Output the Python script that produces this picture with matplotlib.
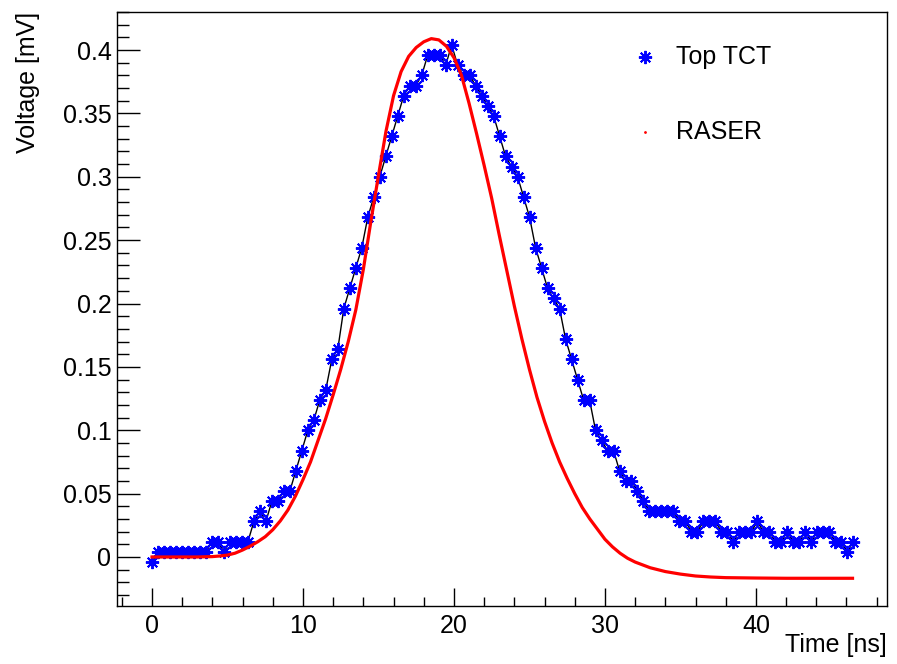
import numpy as np
import matplotlib
matplotlib.use('Agg')
import matplotlib.pyplot as plt
from matplotlib.ticker import MultipleLocator, FuncFormatter

plt.rcParams['font.family'] = ['Liberation Sans', 'DejaVu Sans']

# Top TCT waveform [mV], one sample every dt ns starting at t=0
dt = 0.397
tct_v = [-0.004, 0.004, 0.004, 0.004, 0.004, 0.004, 0.004, 0.004, 0.004, 0.004,
         0.012, 0.012, 0.004, 0.012, 0.012, 0.012, 0.012, 0.028, 0.036, 0.028,
         0.044, 0.044, 0.052, 0.052, 0.068, 0.084, 0.100, 0.108, 0.124, 0.132,
         0.156, 0.164, 0.196, 0.212, 0.228, 0.244, 0.268, 0.284, 0.300, 0.316,
         0.332, 0.348, 0.364, 0.372, 0.372, 0.380, 0.396, 0.396, 0.396, 0.388,
         0.404, 0.388, 0.380, 0.380, 0.372, 0.364, 0.356, 0.348, 0.332, 0.316,
         0.308, 0.300, 0.284, 0.268, 0.244, 0.228, 0.212, 0.204, 0.196, 0.172,
         0.156, 0.140, 0.124, 0.124, 0.100, 0.092, 0.084, 0.084, 0.068, 0.060,
         0.060, 0.052, 0.044, 0.036, 0.036, 0.036, 0.036, 0.036, 0.028, 0.028,
         0.020, 0.020, 0.028, 0.028, 0.028, 0.020, 0.020, 0.012, 0.020, 0.020,
         0.020, 0.028, 0.020, 0.020, 0.012, 0.012, 0.020, 0.012, 0.012, 0.020,
         0.012, 0.020, 0.020, 0.020, 0.012, 0.012, 0.004, 0.012]
tct_t = np.arange(len(tct_v)) * dt

# RASER simulation
raser_t = [0, 1, 2, 3, 4, 4.5, 5, 5.5, 6, 6.5,
           7, 7.5, 8, 8.5, 9, 9.5, 10, 10.5, 11, 11.5,
           12, 12.5, 13, 13.5, 14, 14.5, 15, 15.5, 16, 16.5,
           17, 17.5, 18, 18.5, 19, 19.5, 20, 20.5, 21, 21.5,
           22, 22.5, 23, 23.5, 24, 24.5, 25, 25.5, 26, 26.5,
           27, 27.5, 28, 28.5, 29, 29.5, 30, 30.5, 31, 31.5,
           32, 33, 34, 35, 36, 37, 38, 40, 42, 44, 46.4]
raser_v = [0, 0, 0, 0, 0.0003, 0.0008, 0.0015, 0.003, 0.0055, 0.0085,
           0.012, 0.016, 0.0215, 0.0285, 0.037, 0.048, 0.061, 0.075, 0.092, 0.109,
           0.128, 0.148, 0.170, 0.195, 0.227, 0.265, 0.301, 0.336, 0.364, 0.383,
           0.395, 0.402, 0.4065, 0.409, 0.408, 0.403, 0.394, 0.380, 0.358, 0.334,
           0.309, 0.283, 0.254, 0.226, 0.198, 0.172, 0.148, 0.126, 0.107, 0.090,
           0.075, 0.062, 0.050, 0.039, 0.030, 0.022, 0.014, 0.008, 0.003, -0.001,
           -0.004, -0.0085, -0.0115, -0.0135, -0.015, -0.0158, -0.0163, -0.0166, -0.0168, -0.0168, -0.0168]

fig = plt.figure(figsize=(8.97, 6.64), dpi=100)
ax = fig.add_axes([0.1304, 0.0873, 0.8584, 0.8946])

star = (8, 2, 0)
ax.plot(tct_t, tct_v, color='black', lw=1.0, zorder=2)
ax.plot(tct_t, tct_v, ls='none', marker=star, ms=9.5, mec='blue', mfc='blue', mew=1.4, zorder=3)
ax.plot(raser_t, raser_v, color='red', lw=2.3, zorder=4)

ax.set_xlim(-2.32, 48.68)
ax.set_ylim(-0.0387, 0.430)
ax.xaxis.set_major_locator(MultipleLocator(10))
ax.xaxis.set_minor_locator(MultipleLocator(2))
ax.yaxis.set_major_locator(MultipleLocator(0.05))
ax.yaxis.set_minor_locator(MultipleLocator(0.01))
ax.yaxis.set_major_formatter(FuncFormatter(lambda v, p: '%g' % round(v, 3)))
ax.xaxis.set_major_formatter(FuncFormatter(lambda v, p: '%g' % round(v, 3)))

ax.tick_params(which='both', direction='in', top=False, right=False, labelsize=18, width=1)
ax.tick_params(axis='x', which='major', length=13, pad=6)
ax.tick_params(axis='x', which='minor', length=6.5)
ax.tick_params(axis='y', which='major', length=16.6, pad=4)
ax.tick_params(axis='y', which='minor', length=8.3)
for s in ax.spines.values():
    s.set_linewidth(1.0)

ax.set_xlabel('Time [ns]', fontsize=18, loc='right')
ax.set_ylabel('Voltage [mV]', fontsize=18, loc='top')
ax.xaxis.set_label_coords(1.0, -0.045)
ax.yaxis.set_label_coords(-0.10, 1.0)

# legend, no frame
ax.plot([0.6857], [0.9242], transform=ax.transAxes, ls='none', marker=star, ms=9.5,
        mec='blue', mew=1.4, clip_on=False)
ax.text(0.726, 0.9242, 'Top TCT', transform=ax.transAxes, fontsize=18, va='center', ha='left')
ax.plot([0.6857], [0.798], transform=ax.transAxes, ls='none', marker='.', ms=2,
        color='red', clip_on=False)
ax.text(0.726, 0.798, 'RASER', transform=ax.transAxes, fontsize=18, va='center', ha='left')

fig.savefig('out.png', dpi=100)
